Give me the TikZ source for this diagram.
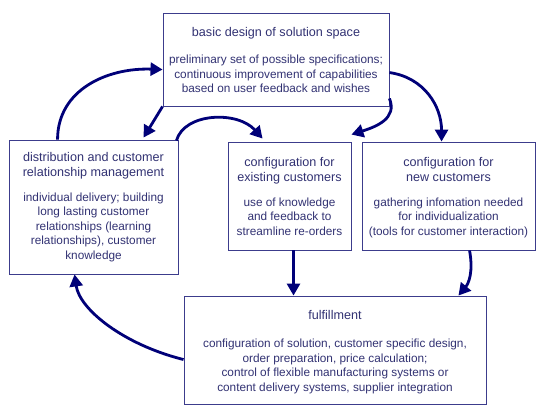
\documentclass[tikz,border=0pt]{standalone}
\usepackage{fontspec}
\setmainfont{Liberation Sans}
\usetikzlibrary{arrows.meta,calc}
\definecolor{boxcol}{RGB}{60,60,140}
\definecolor{txtcol}{RGB}{50,50,115}
\definecolor{arrcol}{RGB}{0,0,120}
\tikzset{
  blk/.style={draw=boxcol,line width=0.9pt,fill=white,inner sep=0pt},
  txt/.style={text=txtcol,align=center,inner sep=0pt,anchor=north,font=\fontsize{11.8}{14.6}\selectfont},
  flow/.style={draw=arrcol,line width=2.8pt,-{Triangle[length=12pt,width=13pt]}},
}
\newcommand{\ttl}[1]{{\fontsize{12.6}{14.6}\selectfont #1}}
\begin{document}
\begin{tikzpicture}[x=1pt,y=-1pt]
\useasboundingbox (0,0) rectangle (547,410);
% boxes
\node[blk,minimum width=226pt,minimum height=93pt] (top) at (276,59.5) {};
\node[blk,minimum width=169pt,minimum height=134pt] (left) at (93.5,207) {};
\node[blk,minimum width=123pt,minimum height=108pt] (mid) at (289.5,196) {};
\node[blk,minimum width=173pt,minimum height=108pt] (right) at (448.5,196) {};
\node[blk,minimum width=302pt,minimum height=108pt] (bot) at (335,350) {};
% texts
\node[txt] (topt) at ($(top.north)+(0,15)$) {\ttl{basic design of solution space}\\[12pt]
preliminary set of possible specifications;\\continuous improvement of capabilities\\based on user feedback and wishes};
\node[txt] (leftt) at ($(left.north)+(0,13)$) {\ttl{distribution and customer}\\\ttl{relationship management}\\[10pt]
individual delivery; building\\long lasting customer\\relationships (learning\\relationships), customer\\knowledge};
\node[txt] (midt) at ($(mid.north)+(0,16)$) {\ttl{configuration for}\\\ttl{existing customers}\\[10pt]
use of knowledge\\and feedback to\\streamline re-orders};
\node[txt] (rightt) at ($(right.north)+(0,16)$) {\ttl{configuration for}\\\ttl{new customers}\\[10pt]
gathering infomation needed\\for individualization\\(tools for customer interaction)};
\node[txt] (bott) at ($(bot.north)+(0,15)$) {\ttl{fulfillment}\\[13pt]
configuration of solution, customer specific design,\\order preparation, price calculation;\\control of flexible manufacturing systems or\\content delivery systems, supplier integration};
% connectors
\coordinate (a1s) at ($(left.north west)+(49,0)$);
\coordinate (a1e) at ($(top.north west)+(0,57)$);
\draw[flow] (a1s) .. controls ($(a1s)+(0,-50)$) and ($(a1e)+(-55,-2)$) .. (a1e);
\coordinate (a2s) at ($(top.south west)+(0,0)$);
\coordinate (a2e) at ($(left.north west)+(135,-2)$);
\draw[flow] (a2s) -- (a2e);
\coordinate (a3s) at ($(left.north east)+(-2,1)$);
\coordinate (a3e) at ($(mid.north west)+(35,-3)$);
\draw[flow] (a3s) .. controls ($(a3s)+(8,-28)$) and ($(a3e)+(-25,-28)$) .. (a3e);
\coordinate (a4s) at ($(top.south east)+(0,-8)$);
\coordinate (a4e) at ($(mid.north east)+(0,-7)$);
\draw[flow] (a4s) .. controls ($(a4s)+(8,20)$) and ($(a4e)+(25,-8)$) .. (a4e);
\coordinate (a5s) at ($(top.north east)+(0,60)$);
\coordinate (a5e) at ($(right.north west)+(80,0)$);
\draw[flow] (a5s) .. controls ($(a5s)+(35,5)$) and ($(a5e)+(0,-35)$) .. (a5e);
\coordinate (a6s) at ($(mid.south)+(4,0)$);
\draw[flow] (a6s) -- (a6s |- bot.north);
\coordinate (a7s) at ($(right.south west)+(108,0)$);
\coordinate (a7e) at ($(bot.north east)+(-28,0)$);
\draw[flow] (a7s) .. controls ($(a7s)+(4,22)$) and ($(a7e)+(10,-12)$) .. (a7e);
\coordinate (a8s) at ($(bot.north west)+(0,64)$);
\coordinate (a8e) at ($(left.south west)+(66,0)$);
\draw[flow] (a8s) .. controls ($(a8s)+(-60,-15)$) and ($(a8e)+(5,35)$) .. (a8e);
\end{tikzpicture}
\end{document}
